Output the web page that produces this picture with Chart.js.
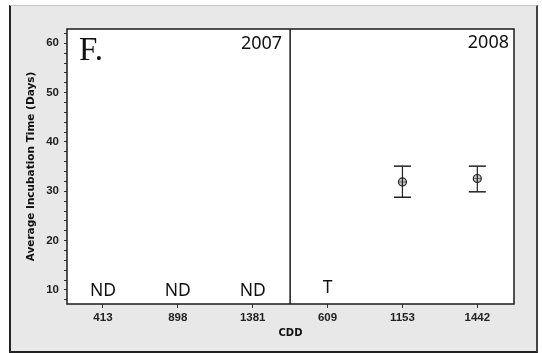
<!DOCTYPE html>
<html>
<head>
<meta charset="utf-8">
<script src="https://cdn.jsdelivr.net/npm/chart.js@4.4.1/dist/chart.umd.min.js"></script>
<style>
  html, body { margin: 0; padding: 0; background: #fff; }
  #moldura {
    position: absolute; left: 9px; top: 5px; width: 525px; height: 345px;
    background: #e8e8e8;
    border-left: 2px solid #222; border-bottom: 2px solid #222;
    border-right: 2px solid #444; border-top: 1px solid #c4c4c4;
  }
  #grafico { position: absolute; left: 0; top: 0; }
</style>
</head>
<body>
<div id="moldura"></div>
<canvas id="grafico" width="542" height="353"></canvas>
<script>
// ─── Dados ────────────────────────────────────────────────────────────────────
const CATEGORIAS   = ['413', '898', '1381', '609', '1153', '1442'];   // CDD
const ANOS         = ['2007', '2008'];
const MEDIAS       = [null, null, null, null, 31.9, 32.6];             // dias
const ERRO_SUP     = [null, null, null, null, 35.1, 35.1];
const ERRO_INF     = [null, null, null, null, 28.8, 29.9];
const SEM_DADO     = ['ND', 'ND', 'ND', 'T', null, null];
const Y_TICKS      = [10, 20, 30, 40, 50, 60];
const PAINEL       = 'F.';

const Y_ROTULO  = 10;    // altura dos rótulos ND / T
const DIVISOR_X = 2.5;   // separa 2007 de 2008

// ─── Plugin: fundo, moldura, divisor e textos ────────────────────────────────
const pluginPainel = {
  id: 'painel',
  beforeDraw(chart) {
    const { ctx, chartArea: a } = chart;
    ctx.save();
    ctx.fillStyle = '#fff';
    ctx.fillRect(a.left, a.top, a.right - a.left, a.bottom - a.top);
    ctx.restore();
  },
  afterDatasetsDraw(chart) {
    const { ctx, chartArea: a, scales: { x, y } } = chart;
    ctx.save();
    ctx.strokeStyle = '#1a1a1a';
    ctx.lineWidth = 1.5;
    ctx.strokeRect(a.left, a.top, a.right - a.left, a.bottom - a.top);

    const xd = x.getPixelForValue(DIVISOR_X);
    ctx.beginPath();
    ctx.moveTo(xd, a.top);
    ctx.lineTo(xd, a.bottom);
    ctx.stroke();

    // ND / T
    ctx.fillStyle = '#111';
    ctx.font = '17.5px "Noto Sans"';
    ctx.textAlign = 'center';
    ctx.textBaseline = 'middle';
    SEM_DADO.forEach((t, i) => {
      if (!t) return;
      const dy = t === 'T' ? -2 : 1;
      ctx.fillText(t, x.getPixelForValue(i), y.getPixelForValue(Y_ROTULO) + dy);
    });

    // anos
    ctx.font = '18px "Noto Sans"';
    ctx.textAlign = 'right';
    ctx.fillText(ANOS[0], xd - 8, a.top + 15);
    ctx.fillText(ANOS[1], a.right - 5, a.top + 14);

    // letra do painel
    ctx.font = '33px "Liberation Serif"';
    ctx.textAlign = 'left';
    ctx.textBaseline = 'alphabetic';
    ctx.fillText(PAINEL, a.left + 12, a.top + 31);
    ctx.restore();
  },
};

// ─── Datasets ─────────────────────────────────────────────────────────────────
const barrasErro = MEDIAS.map((m, i) => m == null ? null : {
  data: [{ x: i, y: ERRO_INF[i] }, { x: i, y: ERRO_SUP[i] }],
  showLine: true,
  borderColor: '#222',
  borderWidth: 1.2,
  pointStyle: 'line',
  pointRadius: 8.5,
  pointBorderWidth: 1.5,
  pointBorderColor: '#222',
}).filter(Boolean);

const pontosMedia = MEDIAS.map((m, i) => ({ x: i, y: m })).filter(p => p.y != null);

const datasets = [
  ...barrasErro,
  {
    data: pontosMedia,
    pointStyle: 'circle',
    pointRadius: 4,
    pointBackgroundColor: 'rgba(160,160,160,0.6)',
    pointBorderColor: '#222',
    pointBorderWidth: 1.2,
  },
  {
    data: pontosMedia,
    pointStyle: 'cross',
    pointRadius: 4,
    pointBorderColor: '#222',
    pointBorderWidth: 1,
  },
];

// ─── Gráfico ──────────────────────────────────────────────────────────────────
const fonteTick = { family: '"Liberation Sans", sans-serif', size: 11.5, weight: 'bold' };

new Chart(document.getElementById('grafico'), {
  type: 'scatter',
  data: { datasets },
  options: {
    responsive: false,
    animation: false,
    events: [],
    layout: { padding: { top: 29, right: 28, left: 0, bottom: 0 } },
    plugins: { legend: { display: false }, tooltip: { enabled: false } },
    scales: {
      x: {
        type: 'linear',
        min: -0.48,
        max: 5.49,
        afterFit: s => { s.height = 49; },
        border: { display: false },
        grid: { drawOnChartArea: false, tickLength: 4, tickColor: '#333', tickWidth: 1 },
        ticks: {
          stepSize: 1,
          includeBounds: false,
          autoSkip: false,
          maxRotation: 0,
          padding: 3,
          color: '#222',
          font: fonteTick,
          callback: v => Number.isInteger(v) ? (CATEGORIAS[v] ?? '') : '',
        },
        title: {
          display: true,
          text: 'CDD',
          color: '#111',
          font: { family: '"DejaVu Sans", sans-serif', size: 10, weight: 'bold' },
          padding: { top: 0, bottom: 14 },
        },
      },
      y: {
        min: 7.16,
        max: 62.9,
        afterFit: s => { s.width = 67; },
        border: { display: false },
        grid: { drawOnChartArea: false, tickLength: 3, tickColor: '#333', tickWidth: 1 },
        ticks: {
          stepSize: 2,
          includeBounds: false,
          autoSkip: false,
          padding: 5,
          color: '#222',
          font: fonteTick,
          callback: v => Y_TICKS.includes(v) ? String(v) : '',
        },
        title: {
          display: true,
          text: 'Average Incubation Time (Days)',
          color: '#111',
          font: { family: '"DejaVu Sans", sans-serif', size: 10.5, weight: 'bold' },
          padding: { top: 25, bottom: 0 },
        },
      },
    },
  },
  plugins: [pluginPainel],
});
</script>
</body>
</html>
